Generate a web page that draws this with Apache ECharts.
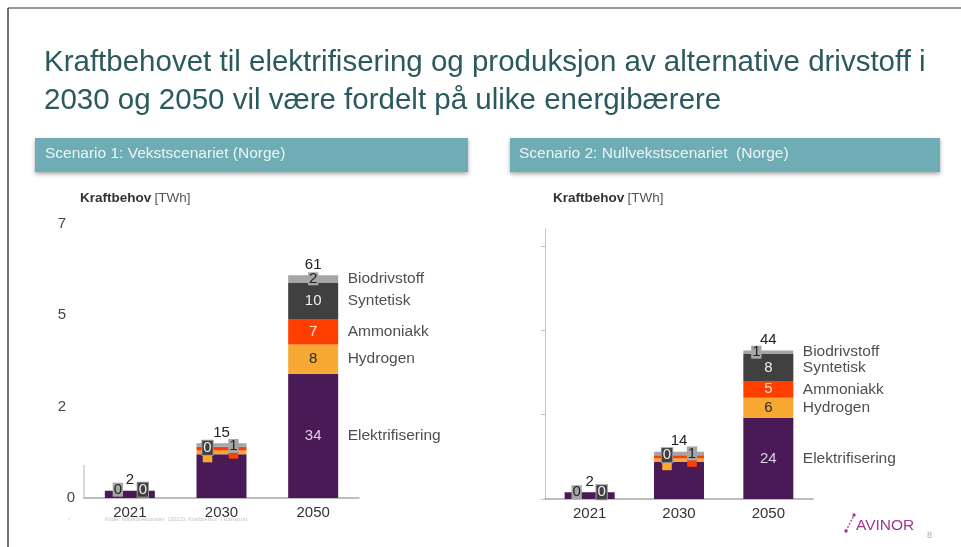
<!DOCTYPE html>
<html>
<head>
<meta charset="utf-8">
<script src="https://cdn.jsdelivr.net/npm/echarts@6/dist/echarts.min.js"></script>
<style>
  html, body { margin: 0; padding: 0; background: #fff; }
  #chart { width: 961px; height: 547px; }
</style>
</head>
<body>
<div id="chart"></div>
<script>
// kategorier og tall lest av figuren
const years = ['2021', '2030', '2050'];
const seriesNames = ['Elektrifisering', 'Hydrogen', 'Ammoniakk', 'Syntetisk', 'Biodrivstoff'];

// Scenario 1: Vekstscenariet
const s1Elektrifisering = [2, 12, 34];
const s1Hydrogen = [0, 1, 8];
const s1Ammoniakk = [0, 1, 7];
const s1Syntetisk = [0, 0, 10];
const s1Biodrivstoff = [0, 1, 2];
const s1Total = [2, 15, 61];

// Scenario 2: Nullvekstscenariet
const s2Elektrifisering = [2, 11, 24];
const s2Hydrogen = [0, 1, 6];
const s2Ammoniakk = [0, 1, 5];
const s2Syntetisk = [0, 0, 8];
const s2Biodrivstoff = [0, 1, 1];
const s2Total = [2, 14, 44];

// aksetall slik de står på lysbildet
const yTickValues = [0, 25, 50, 75];
const yTickLabels = ['0', '2', '5', '7'];

const colors = ['#4a1a57', '#f7a933', '#fe3f00', '#404040', '#a6a6a6'];
const insideText = ['#ddd2e6', '#2a2a2a', '#ffe2d6', '#eeeeee', '#222222'];
const FONT = '"Liberation Sans", Arial, sans-serif';

const chart = echarts.init(document.getElementById('chart'));

// etikett for ett segment (serie s, kategori i) i panel p
function segLabel(p, s, i) {
    const base = { show: true, position: 'inside', fontFamily: FONT, fontSize: 15, color: insideText[s] };
    if (i === 2) {
        if (s === 4) {
            return Object.assign(base, {
                backgroundColor: colors[4], padding: [0, 1], lineHeight: 13,
                offset: p === 0 ? [0, 0] : [-12, 0]
            });
        }
        return base;
    }
    // små segmenter 2021 / 2030
    if (s === 0) return { show: false };
    const box = { padding: [0, 1], lineHeight: 14 };
    if (s === 3) {
        return Object.assign(base, box, {
            backgroundColor: '#404040', color: '#eeeeee',
            borderColor: '#9a9a9a', borderWidth: 1,
            offset: i === 0 ? (p === 0 ? [13, -1] : [12, 0]) : (p === 0 ? [-14, 1] : [-12, 0])
        });
    }
    if (s === 4) {
        return Object.assign(base, box, {
            backgroundColor: '#a6a6a6', color: '#222',
            offset: i === 0 ? (p === 0 ? [-12, -1] : [-13, 0]) : (p === 0 ? [12, 1] : [13, 0])
        });
    }
    if (i === 0) return { show: false };
    // hydrogen / ammoniakk 2030: små fargebokser delvis skjult
    return Object.assign(base, {
        fontSize: 10, lineHeight: 8, padding: [0, 2],
        backgroundColor: colors[s], color: colors[s],
        offset: s === 1 ? [p === 0 ? -14 : -12, 6] : [p === 0 ? 12 : 13, 6]
    });
}

function buildPanel(p, arrays, totals) {
    const out = [];
    arrays.forEach(function (arr, s) {
        out.push({
            name: seriesNames[s],
            type: 'bar',
            stack: 'p' + p,
            xAxisIndex: p,
            yAxisIndex: p,
            barWidth: 50,
            itemStyle: { color: colors[s] },
            data: arr.map(function (v, i) {
                return { value: v, label: segLabel(p, s, i) };
            })
        });
    });
    // totalsum over stabelen
    out.push({
        name: 'Sum',
        type: 'bar',
        stack: 'p' + p,
        xAxisIndex: p,
        yAxisIndex: p,
        barWidth: 50,
        itemStyle: { color: 'transparent' },
        label: {
            show: true, position: 'top', distance: 3,
            fontFamily: FONT, fontSize: 15, color: '#222',
            formatter: function (prm) { return totals[prm.dataIndex]; }
        },
        data: totals.map(function () { return 0; })
    });
    // serienavn til høyre for 2050-stabelen, på midten av hvert segment
    let acc = 0;
    const mids = arrays.map(function (arr) {
        const m = acc + arr[2] / 2;
        acc += arr[2];
        return m;
    });
    out.push({
        type: 'scatter',
        xAxisIndex: p,
        yAxisIndex: p,
        symbolSize: 1,
        itemStyle: { color: 'transparent' },
        silent: true,
        label: {
            show: true, position: 'right', distance: 34,
            fontFamily: FONT, fontSize: 15.5, color: '#222',
            formatter: function (prm) { return seriesNames[prm.dataIndex]; }
        },
        data: mids.map(function (m) { return ['2050', m]; })
    });
    return out;
}

const xAxisBase = {
    type: 'category',
    data: years,
    axisLine: { lineStyle: { color: '#a8a8a8', width: 1.5 } },
    axisTick: { show: false },
    axisLabel: { fontFamily: FONT, fontSize: 15, color: '#333', margin: 7 }
};

const unitText = {
    text: '{b|Kraftbehov} {n|[TWh]}',
    rich: {
        b: { fontFamily: FONT, fontSize: 13.5, fontWeight: 'bold', fill: '#333' },
        n: { fontFamily: FONT, fontSize: 13.5, fill: '#555' }
    }
};

const option = {
    animation: false,
    backgroundColor: '#fff',
    grid: [
        { left: 84, top: 224, width: 275, height: 274 },
        { left: 545, top: 229, width: 268, height: 270 }
    ],
    xAxis: [
        Object.assign({ gridIndex: 0 }, xAxisBase),
        Object.assign({ gridIndex: 1 }, xAxisBase)
    ],
    yAxis: [
        {
            gridIndex: 0, type: 'value', min: 0, max: 75, interval: 25,
            axisLine: { show: false }, axisTick: { show: false }, splitLine: { show: false },
            axisLabel: {
                customValues: yTickValues,
                margin: 9, fontFamily: FONT, fontSize: 15, color: '#444',
                formatter: function (v) {
                    const t = yTickLabels[yTickValues.indexOf(v)];
                    return v === 0 ? t : '{w|' + t + '}';
                },
                rich: { w: { fontFamily: FONT, fontSize: 15, color: '#444', padding: [0, 9, 0, 0] } }
            }
        },
        {
            gridIndex: 1, type: 'value', min: 0, max: 80, interval: 25,
            axisLine: { show: true, lineStyle: { color: '#c4c4c4', width: 1 } },
            axisTick: { show: true, customValues: yTickValues, length: 4, lineStyle: { color: '#c4c4c4' } },
            splitLine: { show: false },
            axisLabel: { show: false }
        }
    ],
    series: [].concat(
        buildPanel(0, [s1Elektrifisering, s1Hydrogen, s1Ammoniakk, s1Syntetisk, s1Biodrivstoff], s1Total),
        buildPanel(1, [s2Elektrifisering, s2Hydrogen, s2Ammoniakk, s2Syntetisk, s2Biodrivstoff], s2Total)
    ),
    graphic: [
        // ramme rundt lysbildet
        { type: 'line', shape: { x1: 8, y1: 8, x2: 961, y2: 8 }, style: { stroke: '#7a7a7a', lineWidth: 1.5 } },
        { type: 'line', shape: { x1: 8, y1: 8, x2: 8, y2: 547 }, style: { stroke: '#444', lineWidth: 1.5 } },
        // tittel
        { type: 'text', left: 44, top: 48, style: { text: 'Kraftbehovet til elektrifisering og produksjon av alternative drivstoff i', fontFamily: FONT, fontSize: 29.5, fill: '#2a5a5d' } },
        { type: 'text', left: 44, top: 86, style: { text: '2030 og 2050 vil være fordelt på ulike energibærere', fontFamily: FONT, fontSize: 29.5, fill: '#2a5a5d' } },
        // scenario-bannere
        { type: 'rect', shape: { x: 35, y: 138, width: 433, height: 34 }, style: { fill: '#6eadb6', shadowBlur: 4, shadowOffsetY: 2, shadowColor: 'rgba(0,0,0,0.35)' } },
        { type: 'text', left: 45, top: 146, style: { text: 'Scenario 1: Vekstscenariet (Norge)', fontFamily: FONT, fontSize: 15.5, fill: '#eef4f5' } },
        { type: 'rect', shape: { x: 510, y: 138, width: 430, height: 34 }, style: { fill: '#6eadb6', shadowBlur: 4, shadowOffsetY: 2, shadowColor: 'rgba(0,0,0,0.35)' } },
        { type: 'text', left: 519, top: 146, style: { text: 'Scenario 2: Nullvekstscenariet  (Norge)', fontFamily: FONT, fontSize: 15.5, fill: '#eef4f5' } },
        // enhetstekst
        { type: 'text', left: 80, top: 191, style: unitText },
        { type: 'text', left: 553, top: 191, style: unitText },
        // kort aksestump i venstre panel
        { type: 'line', shape: { x1: 84, y1: 465, x2: 84, y2: 498 }, style: { stroke: '#b0b0b0', lineWidth: 1 } },
        // kilde
        { type: 'text', left: 105, top: 516, style: { text: 'Kilde: Miljødirektoratet  (2022): Kraftbehov  i transport', fontFamily: FONT, fontSize: 6, fill: '#c4c4c4' } },
        { type: 'circle', shape: { cx: 69, cy: 519, r: 0.8 }, style: { fill: '#ccc' } },
        // logo og sidetall
        { type: 'line', shape: { x1: 846, y1: 531, x2: 854, y2: 515 }, style: { stroke: '#a0368f', lineWidth: 1.2, lineDash: [2, 1.5] } },
        { type: 'circle', shape: { cx: 854, cy: 515, r: 1.7 }, style: { fill: '#a0368f' } },
        { type: 'circle', shape: { cx: 846, cy: 531, r: 1.7 }, style: { fill: '#a0368f' } },
        { type: 'text', left: 856, top: 518, style: { text: 'AVINOR', fontFamily: FONT, fontSize: 15.5, fill: '#a0368f' } },
        { type: 'text', left: 927, top: 531, style: { text: '8', fontFamily: FONT, fontSize: 9, fill: '#aaa' } }
    ]
};

chart.setOption(option);
</script>
</body>
</html>
